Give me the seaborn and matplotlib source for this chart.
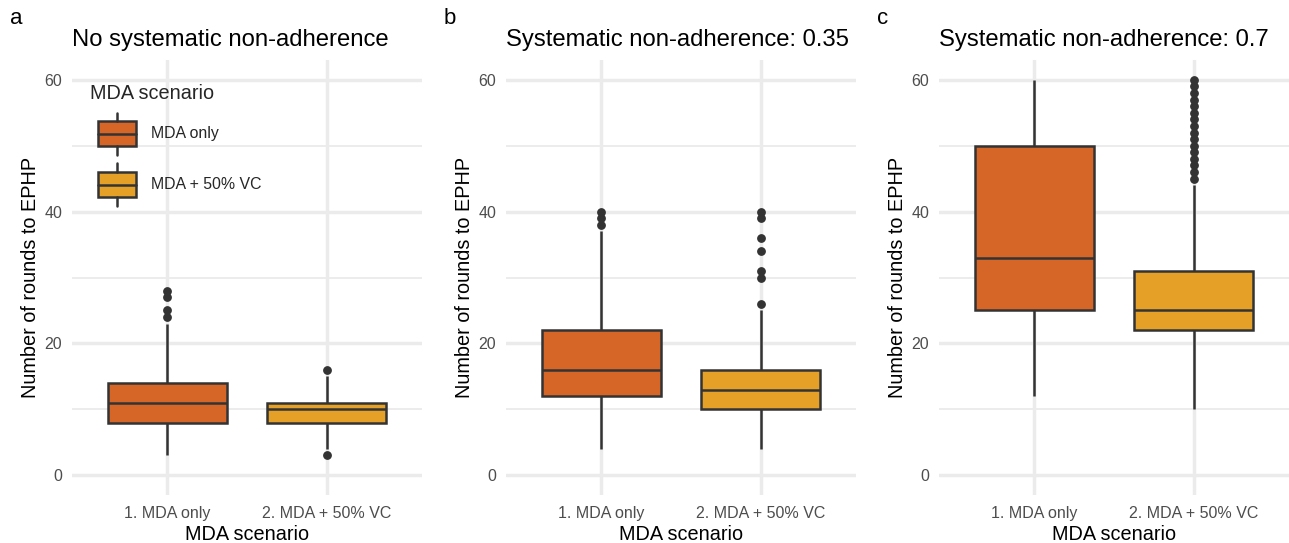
import numpy as np
import pandas as pd
import matplotlib.pyplot as plt
import seaborn as sns
from matplotlib.legend_handler import HandlerBase
from matplotlib.patches import Rectangle, Patch
from matplotlib.lines import Line2D
from matplotlib.ticker import MultipleLocator

# Kategorien und Beschriftungen
scenarios = ["1. MDA only", "2. MDA + 50% VC"]
legend_labels = ["MDA only", "MDA + 50% VC"]
panel_letters = ["a", "b", "c"]
panel_titles = ["No systematic non-adherence",
                "Systematic non-adherence: 0.35",
                "Systematic non-adherence: 0.7"]
box_colors = ["#D66628", "#E4A027"]

# Boxplot-Kennwerte je Panel, [MDA only, MDA + 50% VC]
whisker_lo = [[3, 4], [4, 4], [12, 10]]
q1_vals = [[8, 8], [12, 10], [25, 22]]
medians = [[11, 10], [16, 13], [33, 25]]
q3_vals = [[14, 11], [22, 16], [50, 31]]
whisker_hi = [[23, 15], [37, 25], [60, 44]]
outliers = [
    [[24, 25, 27, 28], [3, 16]],
    [[38, 39, 40], [26, 30, 31, 34, 36, 39, 40]],
    [[], [45, 46, 47, 48, 49, 50, 51, 52, 53, 54, 55, 56, 57, 58, 59, 60]],
]


def box_sample(lo, q1, med, q3, hi, out, m=40):
    n_low = sum(1 for v in out if v < lo)
    n_high = len(out) - n_low
    return ([lo] * (1 + n_high) + [q1] * m + [med] * m + [q3] * m
            + [hi] * (1 + n_low) + list(out))


rows = []
for p in range(3):
    for s, scen in enumerate(scenarios):
        vals = box_sample(whisker_lo[p][s], q1_vals[p][s], medians[p][s],
                          q3_vals[p][s], whisker_hi[p][s], outliers[p][s])
        for v in vals:
            rows.append({"panel": p, "scenario": scen, "rounds": v})
df = pd.DataFrame(rows)

EDGE = "#333333"
LW = 1.8


class BoxKeyHandler(HandlerBase):
    # Legendensymbol als kleiner Boxplot (wie bei ggplot)
    def create_artists(self, legend, orig_handle, xdescent, ydescent,
                       width, height, fontsize, trans):
        shift = 6
        x0, y0 = -xdescent + shift, -ydescent
        w = width - shift
        rect = Rectangle((x0, y0 + 0.2 * height), w, 0.6 * height,
                         facecolor=orig_handle.get_facecolor(), edgecolor=EDGE,
                         lw=LW, transform=trans)
        med = Line2D([x0, x0 + w], [y0 + 0.5 * height] * 2, color=EDGE,
                     lw=LW, transform=trans)
        w1 = Line2D([x0 + w / 2] * 2, [y0, y0 + 0.2 * height], color=EDGE,
                    lw=LW, transform=trans)
        w2 = Line2D([x0 + w / 2] * 2, [y0 + 0.8 * height, y0 + height],
                    color=EDGE, lw=LW, transform=trans)
        return [rect, med, w1, w2]


sns.set_theme(style="white")
plt.rcParams["font.family"] = ["Liberation Sans", "DejaVu Sans"]

fig = plt.figure(figsize=(12.89, 5.43), dpi=100)
W, H = 1289, 543
lefts = [72, 506, 939]
grid_col = "#EBEBEB"

for p in range(3):
    ax = fig.add_axes([lefts[p] / W, (H - 495) / H, 350 / W, 435 / H])
    sub = df[df["panel"] == p]
    sns.boxplot(data=sub, x="scenario", y="rounds", hue="scenario",
                order=scenarios, hue_order=scenarios, palette=box_colors,
                width=0.75, linecolor=EDGE, linewidth=LW, fliersize=5.3,
                showcaps=False,
                flierprops=dict(marker="o", markerfacecolor=EDGE,
                                markeredgecolor=EDGE),
                saturation=1, legend=False, ax=ax)
    ax.set_xlim(-0.6, 1.6)
    ax.set_ylim(-3, 63)
    ax.set_yticks([0, 20, 40, 60])
    ax.yaxis.set_minor_locator(MultipleLocator(10))
    ax.set_axisbelow(True)
    ax.grid(which="major", axis="both", color=grid_col, lw=2.5)
    ax.grid(which="minor", axis="y", color=grid_col, lw=1.3)
    for sp in ax.spines.values():
        sp.set_visible(False)
    ax.tick_params(which="both", length=0, labelsize=11.5, labelcolor="#4D4D4D")
    ax.tick_params(axis="y", pad=7)
    ax.tick_params(axis="x", pad=8)
    ax.set_xlabel("MDA scenario", fontsize=14.3, color="black", labelpad=3)
    ax.set_ylabel("Number of rounds to EPHP", fontsize=14.3, color="black",
                  labelpad=3)
    ax.set_title(panel_titles[p], loc="left", fontsize=17.2, color="black",
                 pad=10)
    fig.text((lefts[p] - 62) / W, 1 - 18 / H, panel_letters[p], fontsize=16,
             ha="left", va="center", color="black")

    if p == 0:
        handles = [Patch(facecolor=c) for c in box_colors]
        leg = ax.legend(handles, legend_labels, title="MDA scenario",
                        handler_map={Patch: BoxKeyHandler(xpad=0, ypad=0)},
                        loc="upper left",
                        bbox_to_anchor=(18 / 350, 1 - 24 / 435), frameon=False,
                        fontsize=11.4, title_fontsize=14.3, handlelength=2.88,
                        handleheight=3.71, labelspacing=0.55,
                        handletextpad=0.98, borderpad=0, borderaxespad=0,
                        alignment="left")
        leg._legend_box.sep = 7

fig.savefig("out.png", dpi=100)
